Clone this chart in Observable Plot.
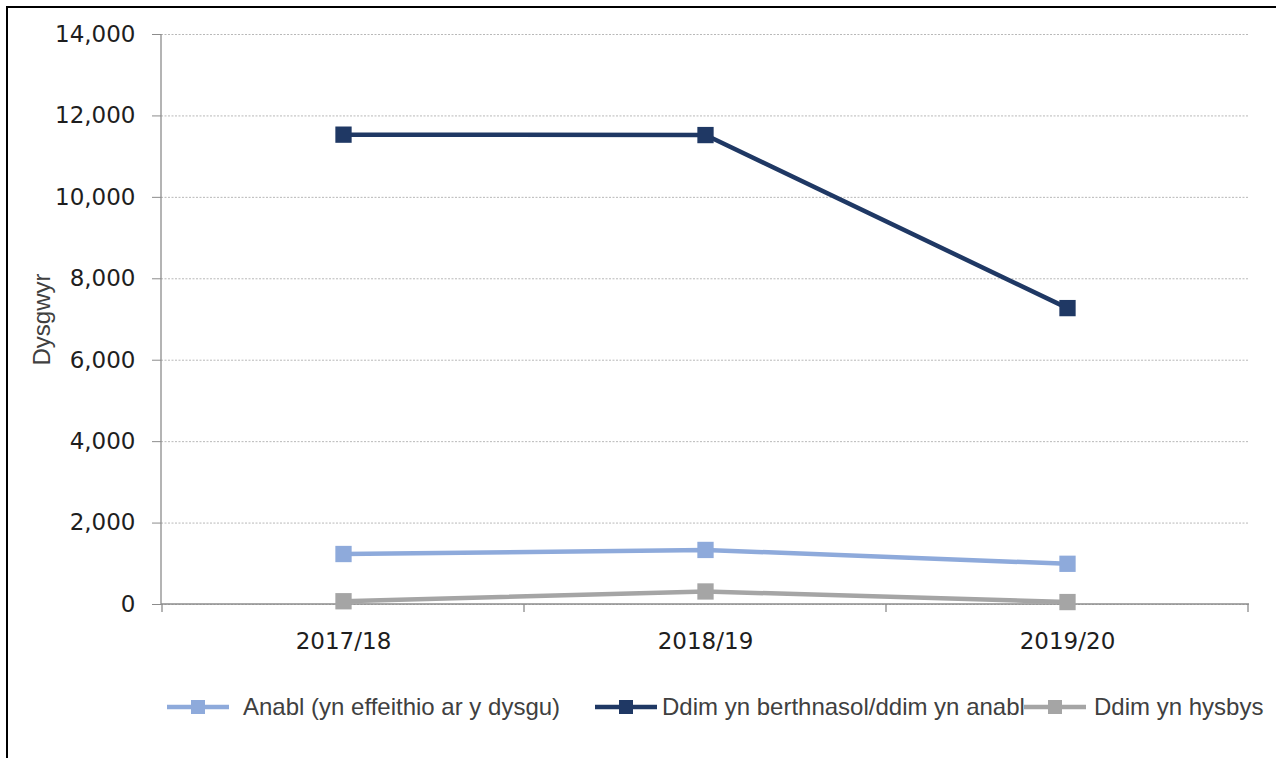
<!DOCTYPE html>
<html>
<head>
<meta charset="utf-8">
<script src="https://cdn.jsdelivr.net/npm/d3@7"></script>
<script src="https://cdn.jsdelivr.net/npm/@observablehq/plot@0.6"></script>
<style>
  html, body { margin: 0; padding: 0; background: #fff; }
  #wrap { position: relative; width: 1276px; height: 758px; overflow: hidden; }
  #border { position: absolute; left: 6px; top: 6px; width: 1300px; height: 800px;
            border-left: 2px solid #000; border-top: 2px solid #000; }
  #chart { position: absolute; left: 0; top: 0; }
  .legend-item { position: absolute; top: 692px; height: 30px; display: flex; align-items: center;
                 font-family: "Liberation Sans", Arial, sans-serif; font-size: 24px; color: #404040; white-space: nowrap; }
  .legend-item svg { display: block; }
</style>
</head>
<body>
<div id="wrap">
  <div id="border"></div>
  <div id="chart"></div>
  <div id="legend"></div>
</div>
<script>
// ---- data ----
const years = ["2017/18", "2018/19", "2019/20"];
const seriesNames = ["Anabl (yn effeithio ar y dysgu)", "Ddim yn berthnasol/ddim yn anabl", "Ddim yn hysbys"];
const seriesColors = ["#8eaadb", "#1f3864", "#a5a5a5"];
const anabl = [1240, 1340, 1000];
const ddimBerthnasol = [11540, 11530, 7280];
const ddimHysbys = [80, 320, 60];
const yTicks = [0, 2000, 4000, 6000, 8000, 10000, 12000, 14000];
const yLabel = "Dysgwyr";

const seriesValues = [anabl, ddimBerthnasol, ddimHysbys];
const data = [];
seriesNames.forEach((s, i) => years.forEach((yr, j) => data.push({series: s, year: yr, value: seriesValues[i][j]})));

// custom axis lines: left axis line, baseline, category boundary ticks
function axisLines(index, scales, values, dims) {
  const x = scales.x, y = scales.y;
  const g = d3.create("svg:g").attr("stroke", "#8c8c8c").attr("stroke-width", 1.3).attr("fill", "none");
  const left = dims.marginLeft, right = dims.width - dims.marginRight;
  const y0 = y(0), yTop = y(d3.max(yTicks));
  g.append("line").attr("x1", left).attr("x2", left).attr("y1", yTop).attr("y2", y0);
  g.append("line").attr("x1", left).attr("x2", right).attr("y1", y0).attr("y2", y0);
  const centers = years.map(d => x(d));
  const step = centers[1] - centers[0];
  const bounds = centers.map(c => c - step / 2).concat([centers[centers.length - 1] + step / 2]);
  for (const b of bounds) {
    g.append("line").attr("x1", b).attr("x2", b).attr("y1", y0).attr("y2", y0 + 8);
  }
  return g.node();
}

const chart = Plot.plot({
  width: 1276,
  height: 660,
  marginTop: 34,
  marginRight: 27,
  marginBottom: 56,
  marginLeft: 161,
  style: {background: "transparent"},
  x: {type: "point", domain: years, padding: 0.5},
  y: {domain: [0, 14000]},
  color: {domain: seriesNames, range: seriesColors},
  marks: [
    Plot.gridY(yTicks, {stroke: "#b8b8b8", strokeOpacity: 1, strokeDasharray: "2,1.5", strokeWidth: 1}),
    Plot.axisY(yTicks, {tickFormat: d3.format(","), tickSize: 9, tickPadding: 17, stroke: "#8c8c8c", strokeOpacity: 1,
      fontSize: 23, fontFamily: "DejaVu Sans", fill: "#1e1e1e", label: null}),
    Plot.axisX(years, {tickSize: 0, tickPadding: 28, fontSize: 23, fontFamily: "DejaVu Sans", fill: "#1e1e1e", label: null}),
    axisLines,
    Plot.text([yLabel], {frameAnchor: "left", textAnchor: "middle", rotate: -90, dx: -119, dy: 0, fontSize: 24, fontFamily: "Liberation Sans", fill: "#404040"}),
    Plot.line(data, {x: "year", y: "value", z: "series", stroke: "series", strokeWidth: 4.5}),
    Plot.dot(data, {x: "year", y: "value", fill: "series", symbol: "square", r: 9.2})
  ]
});
document.getElementById("chart").appendChild(chart);

// legend (HTML)
const legendLeft = [167, 595, 1024];
const textGap = [14, 5, 8];
const legend = d3.select("#legend");
seriesNames.forEach((s, i) => {
  const item = legend.append("div").attr("class", "legend-item").style("left", legendLeft[i] + "px");
  const sw = item.append("svg").attr("width", 62).attr("height", 20);
  sw.append("line").attr("x1", 0).attr("x2", 62).attr("y1", 10).attr("y2", 10)
    .attr("stroke", seriesColors[i]).attr("stroke-width", 4.5);
  sw.append("rect").attr("x", 24).attr("y", 3).attr("width", 14).attr("height", 14).attr("fill", seriesColors[i]);
  item.append("span").style("margin-left", textGap[i] + "px").text(s);
});
</script>
</body>
</html>
